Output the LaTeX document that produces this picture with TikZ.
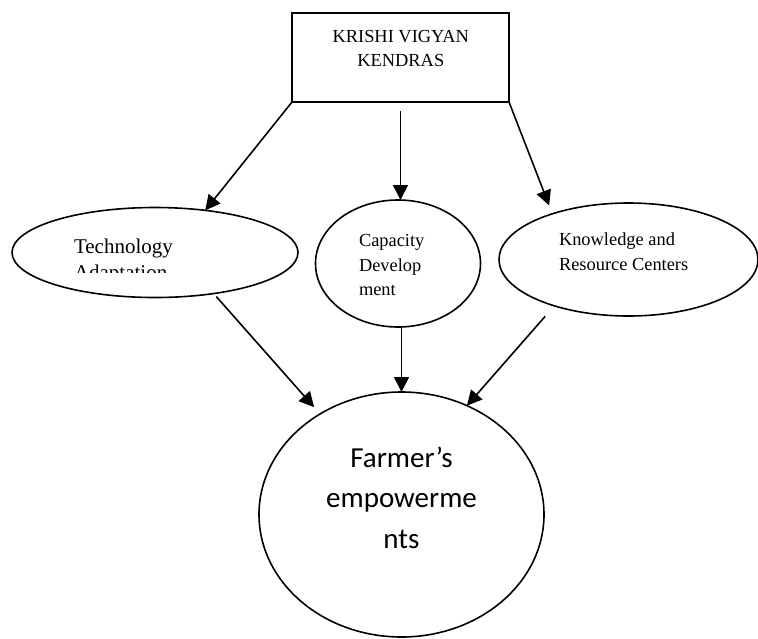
\documentclass[tikz,border=0pt]{standalone}
\usepackage{fontspec}
\setmainfont{Liberation Serif}
\newfontfamily\calibrifont{Carlito}
\usetikzlibrary{arrows.meta,shapes.geometric}
\begin{document}
\begin{tikzpicture}[x=1pt,y=-1pt,
  shp/.style={draw=black,line width=1.6pt,inner sep=0pt,outer sep=0pt},
  oval/.style={shp,ellipse},
  arr/.style={line width=1.6pt,-{Triangle[length=15pt,width=15pt]}},
  txt/.style={inner sep=0pt,outer sep=0pt,font=\fontsize{18.4}{24}\selectfont},
  bigtxt/.style={inner sep=0pt,outer sep=0pt,font=\fontsize{21}{25}\selectfont},
  farmtxt/.style={inner sep=0pt,outer sep=0pt,font=\calibrifont\fontsize{29}{40}\selectfont}]
\useasboundingbox (0,0) rectangle (758,638);
% shapes
\node[shp,rectangle,minimum width=217pt,minimum height=89pt] (kvk) at (400.5,57.5) {};
\node[oval,minimum width=286pt,minimum height=90pt] (tech) at (155,252.5) {};
\node[oval,minimum width=165pt,minimum height=127pt] (cap) at (398,263.5) {};
\node[oval,minimum width=259pt,minimum height=113pt] (know) at (628.5,259.5) {};
\node[oval,minimum width=285pt,minimum height=245pt] (farm) at (401.5,514.5) {};
% texts
\node[txt,anchor=base] (kvkt1) at (400.8,42.3) {KRISHI VIGYAN};
\node[txt,anchor=base] (kvkt2) at (400.8,66.7) {KENDRAS};
\begin{scope}
  \clip (0,0) rectangle (310,272.7);
  \node[bigtxt,anchor=base west] (techt1) at (74,253.3) {Technology};
  \node[bigtxt,anchor=base west] (techt2) at (74,279.5) {Adaptation};
\end{scope}
\node[txt,anchor=base west] (capt1) at (359,246.7) {Capacity};
\node[txt,anchor=base west] (capt2) at (359,271.7) {Develop};
\node[txt,anchor=base west] (capt3) at (359,295.5) {ment};
\node[txt,anchor=base west] (knowt1) at (559,245.7) {Knowledge and};
\node[txt,anchor=base west] (knowt2) at (559,270.7) {Resource Centers};
\node[farmtxt,anchor=base] (farmt1) at (401.5,467.3) {Farmer’s};
\node[farmtxt,anchor=base] (farmt2) at (401.5,507.5) {empowerme};
\node[farmtxt,anchor=base] (farmt3) at (401.5,548.3) {nts};
% connectors
\draw[arr] (kvk.south west) -- (tech.40);
\draw[arr,shorten <=9pt] (kvk.south) -- (kvk.south |- cap.north);
\draw[arr,shorten >=9pt] (kvk.south east) -- (know.149);
\draw[arr,shorten <=4pt,shorten >=9pt] (tech.-35) -- (farm.129);
\draw[arr] (farm.north |- cap.south) -- (farm.north);
\draw[arr,shorten <=14pt] (know.212) -- (farm.59);
\end{tikzpicture}
\end{document}
